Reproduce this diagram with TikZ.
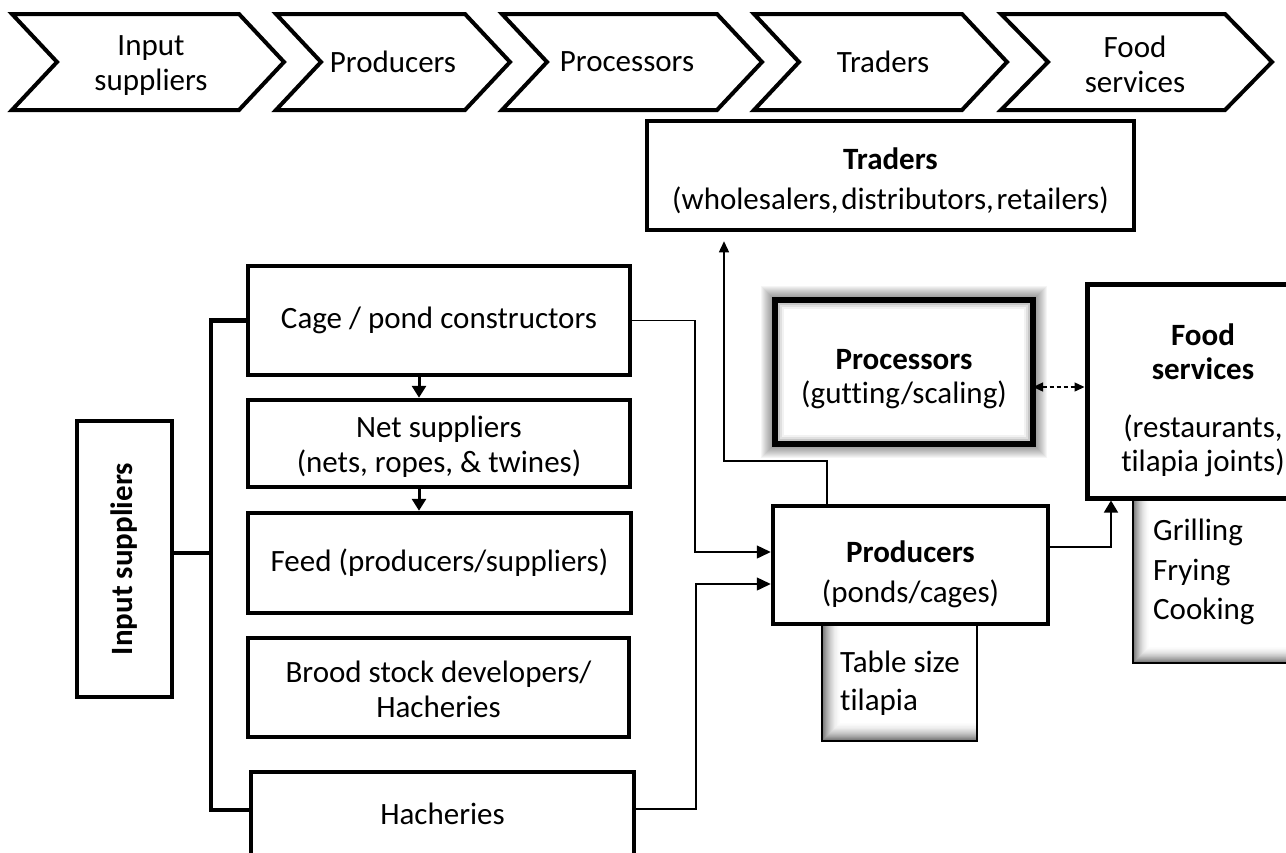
\documentclass[tikz,border=0pt]{standalone}
\usepackage{fontspec}
\setmainfont{Carlito}[Ligatures=NoCommon]
\usetikzlibrary{arrows.meta,backgrounds}
% invisible strut that lowers the first line of a node's text
\newcommand{\lift}[1]{\rule{0pt}{#1pt}}
\begin{document}
\begin{tikzpicture}[x=1pt,y=-1pt,
  every node/.style={inner sep=0pt},
  txt/.style={font=\fontsize{31}{35}\selectfont, align=center},
  box/.style={txt, draw, fill=white, line width=4.5pt},
  shadebox/.style={draw, fill=white, line width=1.5pt, outer sep=0pt},
  chev/.style={draw, line width=4pt, line join=miter, miter limit=4},
  link/.style={line width=1.4pt},
  tipL/.style={-{Triangle[length=14pt,width=13pt]}},
  tipM/.style={-{Triangle[length=12pt,width=14pt]}},
  tipS/.style={-{Triangle[length=11pt,width=10pt]}},
]
\useasboundingbox (0,0) rectangle (1286,852);
\clip (0,0) rectangle (1286,852);

% ---------- value-chain chevrons ----------
\draw[chev] (12,14) -- (239,14) -- (284,62) -- (239,110) -- (12,110) -- (57,62) -- cycle;
\draw[chev] (276,14) -- (465,14) -- (510,62) -- (465,110) -- (276,110) -- (321,62) -- cycle;
\draw[chev] (502,14) -- (717,14) -- (762,62) -- (717,110) -- (502,110) -- (547,62) -- cycle;
\draw[chev] (754,14) -- (962,14) -- (1007,62) -- (962,110) -- (754,110) -- (799,62) -- cycle;
\draw[chev] (1001,14) -- (1225,14) -- (1272,62) -- (1225,110) -- (1001,110) -- (1048,62) -- cycle;
\node[txt] (c1) at (151,62) {\lift{26}Input\\suppliers};
\node[txt] (c2) at (393,62) {Producers};
\node[txt] (c3) at (627,62) {Processors};
\node[txt] (c4) at (883,62) {Traders};
\node[txt] (c5) at (1135,62) {\lift{26}Food\\services};

% ---------- traders ----------
\node[box, minimum width=487pt, minimum height=109pt, font=\fontsize{31}{40}\selectfont]
  (traders) at (890.5,175.5) {\lift{33}\textbf{Traders}\\{\spaceskip=0.09em\relax(wholesalers, distributors, retailers)}};

% ---------- input suppliers column ----------
\node[box, minimum width=382pt, minimum height=109pt] (cage) at (439,320.5) {Cage / pond constructors};
\node[box, minimum width=382pt, minimum height=87pt] (net) at (439,443.5) {\lift{28}Net suppliers\\(nets, ropes, \& twines)};
\node[box, minimum width=383pt, minimum height=100pt] (feed) at (439.5,563) {Feed (producers/suppliers)};
\node[box, minimum width=381pt, minimum height=99pt] (brood) at (438.5,687.5) {\lift{26}Brood stock developers/\\Hacheries};
\node[box, minimum width=383pt, minimum height=84pt] (hach) at (442.5,814) {Hacheries};
\node[box, minimum width=95pt, minimum height=276pt] (input) at (124.5,559) {\rotatebox{90}{\bfseries Input suppliers}};

% bracket joining the supplier boxes
\coordinate (bx) at (211,560);
\coordinate (he) at ([yshift=4pt]hach.west);
\coordinate (ie) at ([yshift=6pt]input.east);
\draw[line width=4.5pt, line join=miter] (cage.west) -| (bx) |- (he);
\draw[line width=4.5pt] (ie) -- (ie -| bx);

% arrows down the column
\coordinate (ax) at (419,0);
\draw[line width=3pt, tipM] (cage.south -| ax) -- (net.north -| ax);
\draw[line width=3pt, tipM] (net.south -| ax) -- (feed.north -| ax);

% ---------- outputs with inner shadow ----------
\node[shadebox, minimum width=155pt, minimum height=116pt] (tbl) at (899.5,683) {};
\foreach \i in {1,...,20}{
  \pgfmathtruncatemacro\p{62*(1-\i/21)^2}
  \draw[black!\p, line width=1.2pt] ([xshift=\i pt]tbl.north west) |- ([yshift=\i pt]tbl.south east);
}
\draw[line width=1.5pt] (tbl.north west) rectangle (tbl.south east);
\node[txt, font=\fontsize{31}{38}\selectfont, align=left, anchor=west] (tblT) at (840,683) {Table size\\tilapia};

\node[shadebox, minimum width=177pt, minimum height=165pt] (grill) at (1221.5,580.5) {};
\foreach \i in {1,...,18}{
  \pgfmathtruncatemacro\p{62*(1-\i/19)^2}
  \draw[black!\p, line width=1.2pt] ([xshift=\i pt]grill.north west) |- ([yshift=\i pt]grill.south east);
}
\draw[line width=1.5pt] (grill.north west) rectangle (grill.south east);
\node[txt, font=\fontsize{31}{39.5}\selectfont, align=left, anchor=west] (grillT) at (1153,572) {Grilling\\Frying\\Cooking};

% ---------- producers, processors, food services ----------
\node[box, minimum width=275pt, minimum height=118pt, font=\fontsize{31}{40}\selectfont]
  (prod) at (910.5,565) {\lift{40}\textbf{Producers}\\(ponds/cages)};

\node[box, line width=5.5pt, outer sep=0pt, minimum width=258pt, minimum height=144pt, font=\fontsize{31}{34}\selectfont]
  (proc) at (904,372) {\lift{34}\textbf{Processors}\\(gutting/scaling)};
% soft glow round the processors box
\begin{scope}[on background layer]
  \foreach \w in {8,10,...,28}
    \draw[black, opacity=0.04, line width=\w pt] (proc.north west) rectangle (proc.south east);
\end{scope}
\draw[black!22, line width=2pt] ([shift={(4pt,-4pt)}]proc.north west) rectangle ([shift={(-4pt,4pt)}]proc.south east);
\draw[black!12, line width=2pt] ([shift={(6pt,-6pt)}]proc.north west) rectangle ([shift={(-6pt,6pt)}]proc.south east);
\draw[black!5, line width=2pt] ([shift={(8pt,-8pt)}]proc.north west) rectangle ([shift={(-8pt,8pt)}]proc.south east);

\node[box, line width=5pt, minimum width=232pt, minimum height=214pt, font=\fontsize{31}{34}\selectfont]
  (food) at (1203,391) {\lift{40}\textbf{Food}\\\textbf{services}\\[24pt](restaurants,\\tilapia joints)};

% ---------- connectors ----------
\coordinate (j1) at (695,552);
\coordinate (j2) at (696,584);
\draw[link, tipL] (cage.east) -| (j1) -- (j1 -| prod.west);
\draw[link, tipL] ([yshift=5pt]hach.east) -| (j2) -- (j2 -| prod.west);

\coordinate (j3) at (724,461);
\coordinate (j4) at (827,461);
\draw[link, tipS, shorten >=9pt] (j4 |- prod.north) -- (j4) -- (j3) -- (j3 |- traders.south);

\coordinate (j5) at (1111,547);
\draw[link, tipM] (j5 -| prod.east) -- (j5) -- (j5 |- food.south);

\coordinate (j6) at (1060,387);
\draw[link, dash pattern=on 4pt off 3pt, {Triangle[length=10pt,width=9pt]}-{Triangle[length=10pt,width=9pt]}]
  (j6 -| proc.east) -- (j6 -| food.west);
\end{tikzpicture}
\end{document}
